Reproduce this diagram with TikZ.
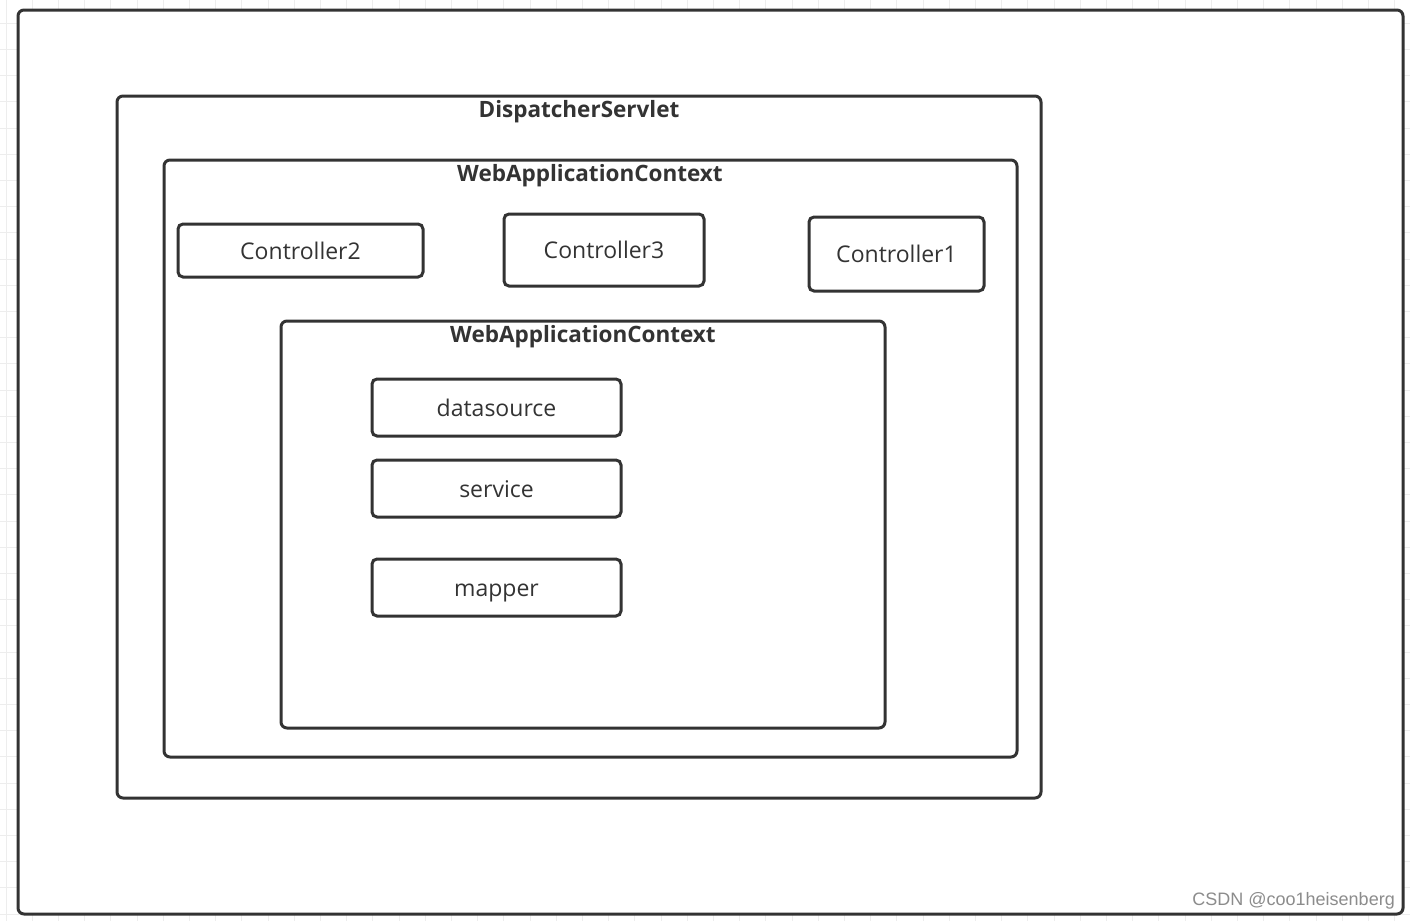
\documentclass[tikz,border=0pt]{standalone}
\usepackage{fontspec}
\setmainfont{Open Sans}
\newfontfamily\wmfont{Liberation Sans}
\definecolor{edge}{HTML}{333333}
\definecolor{gridc}{HTML}{EDEDED}
\definecolor{txt}{HTML}{333333}
\tikzset{
  frame/.style={draw=edge, line width=3pt, rounded corners=6pt, fill=white},
  bean/.style={draw=edge, line width=3pt, rounded corners=5pt, fill=white, text=txt, font=\fontsize{23}{26}\selectfont, text height=17.5pt, text depth=0pt},
  ttl/.style={text=txt, font=\bfseries\fontsize{22.5}{26}\selectfont, inner sep=0pt},
}
\begin{document}
\begin{tikzpicture}[x=1pt,y=-1pt]
\useasboundingbox (0,0) rectangle (1410,921);
\fill[white] (0,0) rectangle (1410,921);
\foreach \i in {0,...,54} { \draw[gridc, line width=1pt] (6+26.2*\i,0) -- (6+26.2*\i,921); }
\foreach \i in {0,...,36} { \draw[gridc, line width=1pt] (0,-3+26.2*\i) -- (1410,-3+26.2*\i); }
\draw[frame] (18,10) rectangle (1403,914);
\draw[frame] (117,96) rectangle (1041,798);
\node[ttl] (ds) at (579,112) {DispatcherServlet};
\draw[frame] (164,160) rectangle (1017,757);
\node[ttl] (wac1) at (590,176) {WebApplicationContext};
\node[bean, minimum width=245pt, minimum height=53pt] (c2) at (300.5,250.5) {Controller2};
\node[bean, minimum width=200pt, minimum height=72pt] (c3) at (604,250) {Controller3};
\node[bean, minimum width=175pt, minimum height=74pt] (c1) at (896.5,254) {Controller1};
\draw[frame] (281,321) rectangle (885,728);
\node[ttl] (wac2) at (583,337) {WebApplicationContext};
\node[bean, minimum width=249pt, minimum height=57pt] (dsrc) at (496.5,407.5) {datasource};
\node[bean, minimum width=249pt, minimum height=57pt] (svc) at (496.5,488.5) {service};
\node[bean, minimum width=249pt, minimum height=57pt] (map) at (496.5,587.5) {mapper};
\node[text=black!45, font=\wmfont\fontsize{18}{20}\selectfont, anchor=east, inner sep=0pt] (wm) at (1395,901) {CSDN @coo1heisenberg};
\end{tikzpicture}
\end{document}
